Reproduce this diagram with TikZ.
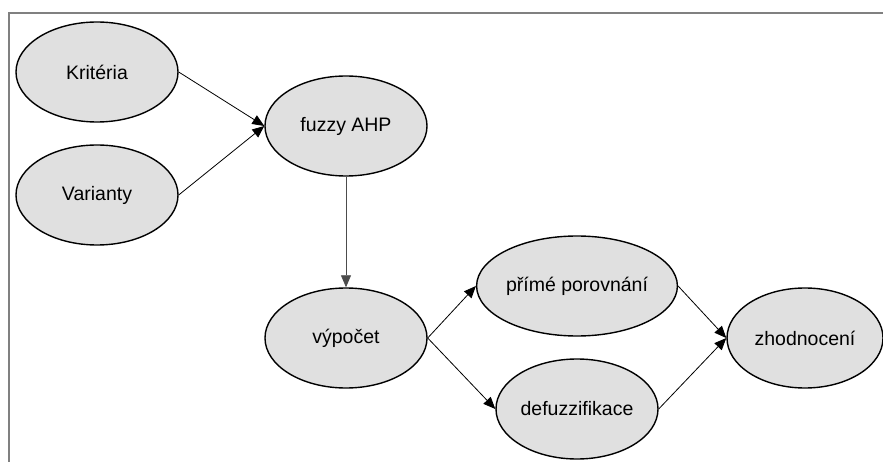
\documentclass[tikz,border=0pt]{standalone}
\usepackage{fontspec}
\setmainfont{Liberation Sans}
\usetikzlibrary{shapes.geometric,arrows.meta}
\begin{document}
\begin{tikzpicture}[x=1pt,y=-1pt,
  oval/.style={ellipse,draw=black,line width=1.4pt,fill=black!12,minimum width=162pt,minimum height=100pt,inner sep=0pt,font=\fontsize{19.5}{22}\selectfont},
  conn/.style={line width=0.8pt,-{Triangle[length=12pt,width=10pt]}}]
\useasboundingbox (0,0) rectangle (883,462);
\draw[gray,line width=1.5pt] (9,462) -- (9,13) -- (883,13);
\node[oval] (krit) at (97,72) {Kritéria};
\node[oval] (var) at (97,195) {Varianty};
\node[oval] (ahp) at (346,126) {fuzzy AHP};
\node[oval] (vyp) at (346,338) {výpočet};
\node[oval] (prime) at (577,286) {přímé porovnání};
\node[oval] (defuz) at (577,409) {defuzzifikace};
\node[oval,minimum width=156pt] (zhod) at (805,338) {zhodnocení};
\draw[conn] (krit.east) -- (ahp.west);
\draw[conn] (var.east) -- (ahp.west);
\draw[conn,draw=black!70] (ahp.south) -- (vyp.north);
\draw[conn] (vyp.east) -- (prime.west);
\draw[conn] (vyp.east) -- (defuz.west);
\draw[conn] (prime.east) -- (zhod.west);
\draw[conn] (defuz.east) -- (zhod.west);
\end{tikzpicture}
\end{document}
